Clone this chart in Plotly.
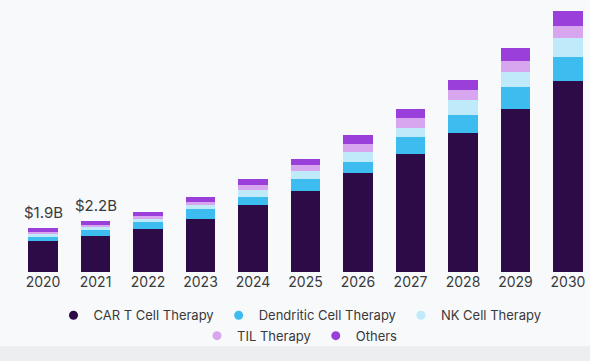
import plotly.graph_objects as go

years = ["2020", "2021", "2022", "2023", "2024", "2025", "2026", "2027", "2028", "2029", "2030"]

# Market size by therapy type, USD billion
car_t = [1.33, 1.55, 1.87, 2.30, 2.91, 3.52, 4.30, 5.13, 6.04, 7.09, 8.30]
dendritic = [0.18, 0.27, 0.30, 0.43, 0.35, 0.52, 0.48, 0.74, 0.78, 0.96, 1.04]
nk_cell = [0.13, 0.14, 0.13, 0.17, 0.30, 0.35, 0.43, 0.39, 0.65, 0.65, 0.83]
til = [0.10, 0.10, 0.13, 0.13, 0.22, 0.26, 0.35, 0.43, 0.43, 0.48, 0.52]
others = [0.16, 0.14, 0.17, 0.22, 0.26, 0.26, 0.39, 0.39, 0.43, 0.57, 0.65]

series_names = ["CAR T Cell Therapy", "Dendritic Cell Therapy", "NK Cell Therapy", "TIL Therapy", "Others"]
series_values = [car_t, dendritic, nk_cell, til, others]
series_colors = ["#2c0b47", "#3dbdef", "#bfeaf9", "#d7a6ee", "#9a3fd9"]
legend_ids = ["legend", "legend", "legend", "legend2", "legend2"]

# Total labels shown for the first two years
labelled_years = ["2020", "2021"]
labelled_totals = ["$1.9B", "$2.2B"]

fig = go.Figure()

x_idx = list(range(len(years)))
for name, vals, color in zip(series_names, series_values, series_colors):
    fig.add_trace(go.Bar(
        x=x_idx, y=vals, name=name, marker=dict(color=color, line=dict(width=0)),
        showlegend=False,
    ))

# Round legend markers, split across two centred rows
for name, color, lg in zip(series_names, series_colors, legend_ids):
    fig.add_trace(go.Scatter(
        x=[None], y=[None], mode="markers", name=name,
        marker=dict(color=color, size=9, symbol="circle"),
        legend=lg,
    ))

totals = [sum(v[i] for v in series_values) for i in range(len(years))]
for yr, txt in zip(labelled_years, labelled_totals):
    i = years.index(yr)
    fig.add_annotation(
        x=i, y=totals[i], text=txt, showarrow=False, yanchor="bottom", yshift=4,
        font=dict(family="Inter, Roboto, sans-serif", size=15, color="#3a3a3a"),
    )

legend_font = dict(family="Inter, Roboto, sans-serif", size=13, color="#3a3a3a")
fig.update_layout(
    width=590, height=361,
    margin=dict(l=10, r=0, t=0, b=89),
    paper_bgcolor="#f7f9fb", plot_bgcolor="#f7f9fb",
    barmode="stack", bargap=0.43,
    xaxis=dict(
        tickmode="array", tickvals=x_idx, ticktext=years,
        range=[-0.629, 10.419], showgrid=False, zeroline=False, showline=False,
        ticks="", tickfont=dict(family="Inter, Roboto, sans-serif", size=14, color="#3a3a3a"),
    ),
    yaxis=dict(range=[0, 11.83], visible=False, showgrid=False, zeroline=False),
    legend=dict(
        orientation="h", x=0.5, xanchor="center", y=-0.104, yanchor="top",
        traceorder="normal", font=legend_font, bgcolor="rgba(0,0,0,0)", itemclick=False,
    ),
    legend2=dict(
        orientation="h", x=0.5, xanchor="center", y=-0.179, yanchor="top",
        traceorder="normal", font=legend_font, bgcolor="rgba(0,0,0,0)", itemclick=False,
    ),
    shapes=[dict(
        type="rect", xref="paper", yref="paper", x0=-0.02, x1=1.0, y0=-0.272, y1=-0.33,
        fillcolor="#eceef0", line=dict(width=0), layer="below",
    )],
)

fig.write_html("out.html")
